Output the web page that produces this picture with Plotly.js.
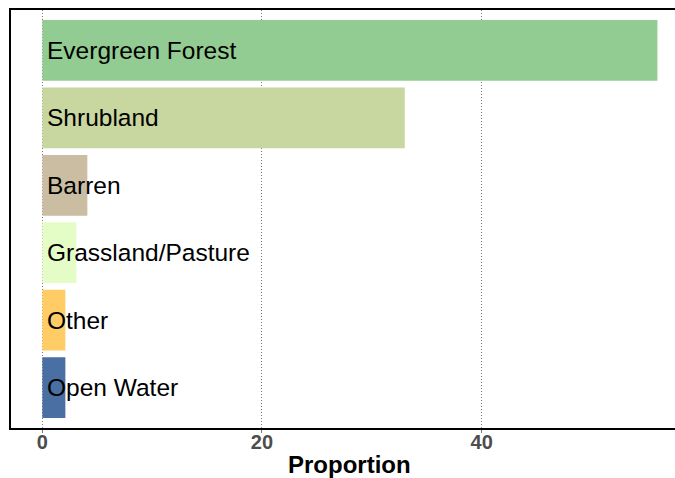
<!DOCTYPE html>
<html><head><meta charset="utf-8">
<script src="https://cdn.plot.ly/plotly-3.0.1.min.js"></script>
<style>html,body{margin:0;padding:0;background:#fff}</style>
</head><body>
<div id="chart" style="width:675px;height:478px"></div>
<script>
const categories = ["Evergreen Forest","Shrubland","Barren","Grassland/Pasture","Other","Open Water"];
const proportions = [56, 33, 4.1, 3.1, 2.1, 2.1];
const barColors = ["#92CC92","#C8D6A0","#CABDA2","#E4FCC6","#FFCC66","#4A6FA2"];
const xTicks = [0, 20, 40];
const xTitle = "Proportion";

const FONT = "Liberation Sans, Arial, sans-serif";

const bars = {
  type: "bar", orientation: "h",
  x: proportions, y: categories,
  marker: {color: barColors, line: {width: 0}},
  width: 0.9, hoverinfo: "none", showlegend: false
};

const annotations = categories.map((c) => ({
  x: 0, y: c, xref: "x", yref: "y", text: c, showarrow: false,
  xanchor: "left", yanchor: "middle", xshift: 3,
  font: {family: FONT, size: 24.5, color: "#000"}
}));
annotations.push({
  x: 0.5105, y: 0, xref: "paper", yref: "paper", text: xTitle, showarrow: false,
  xanchor: "center", yanchor: "middle", yshift: -36.5, borderpad: 0,
  font: {family: FONT, size: 24, color: "#000", weight: "bold"}
});

const layout = {
  width: 675, height: 478,
  margin: {l: 11, r: 0, t: 10, b: 50},
  paper_bgcolor: "#fff", plot_bgcolor: "#fff",
  showlegend: false,
  xaxis: {
    range: [-2.85, 57.6], tickvals: xTicks, ticktext: xTicks.map(String),
    showgrid: true, gridcolor: "#777", griddash: "1px,2px", gridwidth: 1,
    zeroline: false,
    showline: true, linecolor: "#000", linewidth: 2, mirror: true,
    ticks: "outside", ticklen: 3, tickcolor: "#777", tickwidth: 1,
    ticklabelstandoff: -8,
    tickfont: {family: FONT, size: 20, color: "#4d4d4d", weight: "bold"}
  },
  yaxis: {
    type: "category", categoryorder: "array", categoryarray: categories,
    range: [5.6, -0.6], showticklabels: false, ticks: "",
    showgrid: false, zeroline: false,
    showline: true, linecolor: "#000", linewidth: 2, mirror: false
  },
  annotations: annotations
};

Plotly.newPlot("chart", [bars], layout, {displayModeBar: false, staticPlot: true});
</script>
</body></html>
